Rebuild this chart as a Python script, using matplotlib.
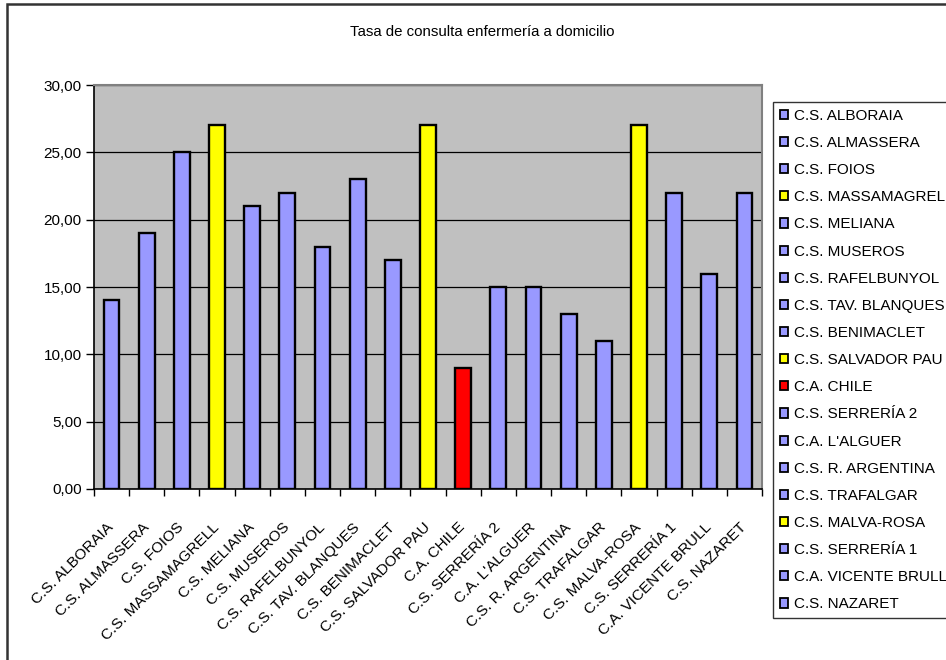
import matplotlib
matplotlib.use("Agg")
import matplotlib.pyplot as plt
from matplotlib.patches import Patch, Rectangle
from matplotlib.ticker import FuncFormatter, MultipleLocator

plt.rcParams['font.family'] = ['Liberation Sans', 'DejaVu Sans']

# data
centros = ["C.S. ALBORAIA", "C.S. ALMASSERA", "C.S. FOIOS", "C.S. MASSAMAGRELL",
           "C.S. MELIANA", "C.S. MUSEROS", "C.S. RAFELBUNYOL", "C.S. TAV. BLANQUES",
           "C.S. BENIMACLET", "C.S. SALVADOR PAU", "C.A. CHILE", "C.S. SERRERÍA 2",
           "C.A. L'ALGUER", "C.S. R. ARGENTINA", "C.S. TRAFALGAR", "C.S. MALVA-ROSA",
           "C.S. SERRERÍA 1", "C.A. VICENTE BRULL", "C.S. NAZARET"]
tasa = [14, 19, 25, 27, 21, 22, 18, 23, 17, 27, 9, 15, 15, 13, 11, 27, 22, 16, 22]
grupo = ["n", "n", "n", "a", "n", "n", "n", "n", "n", "a", "r", "n", "n", "n", "n",
         "a", "n", "n", "n"]
titulo = "Tasa de consulta enfermería a domicilio"

colores = {"n": "#9999FF", "a": "#FFFF00", "r": "#FF0000"}

W, H = 946, 660
fig = plt.figure(figsize=(W / 100, H / 100), dpi=100)
ax = fig.add_axes([94 / W, 1 - 489 / H, (762 - 94) / W, (489 - 85) / H])
ax.set_facecolor("#C0C0C0")

x = list(range(len(centros)))
cols = [colores[g] for g in grupo]
ax.bar(x, tasa, width=0.45, color=cols, edgecolor="black", linewidth=1.7, zorder=3)

ax.set_xlim(-0.5, len(centros) - 0.5)
ax.set_ylim(0, 30)
ax.yaxis.set_major_locator(MultipleLocator(5))
ax.yaxis.set_major_formatter(FuncFormatter(lambda v, p: f"{v:.2f}".replace(".", ",")))
ax.grid(axis="y", color="black", linewidth=0.9, zorder=1)

# ticks between categories, labels at centers
ax.set_xticks([i - 0.5 for i in range(len(centros) + 1)])
ax.set_xticklabels([])
ax.set_xticks(x, minor=True)
ax.set_xticklabels(centros, minor=True, rotation=45, ha="right", va="center",
                   rotation_mode="anchor", fontsize=11)
ax.tick_params(axis="x", which="minor", length=0, pad=26)
ax.tick_params(axis="x", which="major", direction="out", length=5, width=1)
ax.tick_params(axis="y", direction="out", length=6, width=1, labelsize=11, pad=3)

for s in ["top", "right"]:
    ax.spines[s].set_color("#808080")
    ax.spines[s].set_linewidth(1.5)
for s in ["left", "bottom"]:
    ax.spines[s].set_color("black")
    ax.spines[s].set_linewidth(1.2)

fig.text(482 / W, 1 - 32 / H, titulo, ha="center", va="center", fontsize=10.8)

handles = [Patch(facecolor=c, edgecolor="black", linewidth=1.3) for c in cols]
leg = fig.legend(handles, centros, loc="upper left",
                 bbox_to_anchor=(773 / W, 1 - 102 / H), borderaxespad=0,
                 fontsize=11, frameon=True, fancybox=False, edgecolor="black",
                 handlelength=0.55, handleheight=0.55, handletextpad=0.38,
                 labelspacing=0.86, borderpad=0.45)
leg.get_frame().set_linewidth(1.0)

# outer chart border
fig.patches.append(Rectangle((7 / W, -0.1), 1.2, 1 - 4 / H + 0.1,
                             transform=fig.transFigure, fill=False,
                             edgecolor="#333333", linewidth=1.8))

fig.savefig("out.png", dpi=100)
